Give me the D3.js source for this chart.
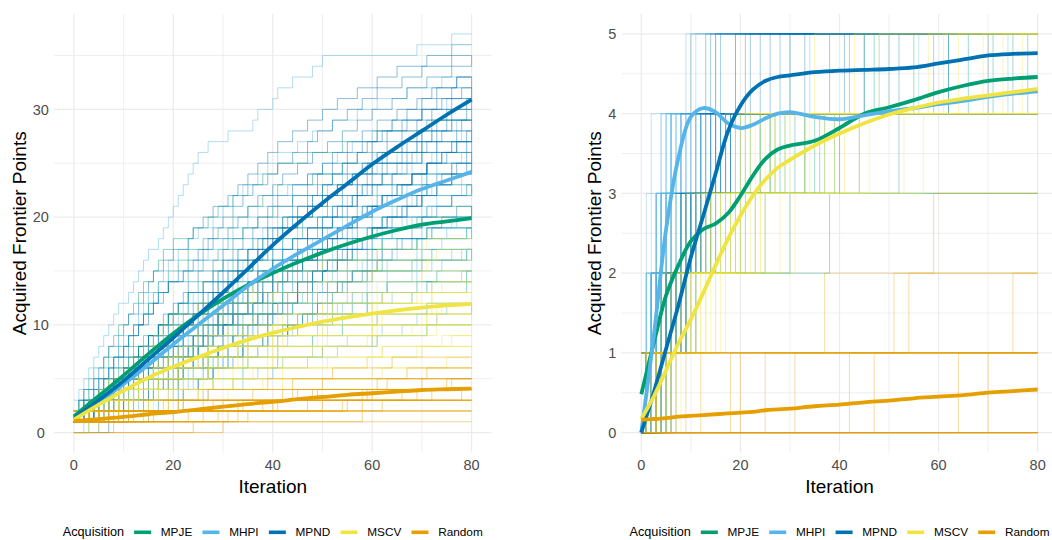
<!DOCTYPE html>
<html>
<head>
<meta charset="utf-8">
<script src="https://cdn.jsdelivr.net/npm/d3@7"></script>
<style>
  html, body { margin: 0; padding: 0; background: #ffffff; }
  svg { display: block; font-family: "Liberation Sans", Arial, Helvetica, sans-serif; }
</style>
</head>
<body>
<svg id="chart" width="1052" height="540"></svg>
<script>
// ---------------------------------------------------------------
// Acquisition strategies and their colours
// ---------------------------------------------------------------
const methods = ["MPJE", "MHPI", "MPND", "MSCV", "Random"];
const methodColors = ["#009E73", "#56B4E9", "#0072B2", "#F0E442", "#E69F00"];

const xTicks = [0, 20, 40, 60, 80];
const xMinorTicks = [10, 30, 50, 70];
const leftYTicks = [0, 10, 20, 30];
const leftYMinorTicks = [5, 15, 25, 35];
const rightYTicks = [0, 1, 2, 3, 4, 5];
const rightYMinorTicks = [0.5, 1.5, 2.5, 3.5, 4.5];
const maxIteration = 80;

// ---------------------------------------------------------------
// Left problem, individual runs. Each string is one run: every
// character is the gap (base 36) in iterations since the previous
// acquired frontier point; a leading "0" is a point held at start.
// Spaces only group the gaps roughly by 20 iterations.
// ---------------------------------------------------------------
const runsLeftMPJE = [
  "00 1111211121112112 4323333 677 a", "0 212111211211122 2333333 767 9b",
  "00 121212212122 4332333 4655 aa", "0 412121222222 2323333 5465 9b",
  "0 32122212222 2333333 5555 aa", "00 223222322 5332333 4655 9b",
  "0 1221222232 433344 5465 aa", "0 432222232 343334 5555 9b",
  "0 322232223 333343 677 aa", "00 2323333 433344 4655 9b",
  "0 23232323 543334 767 aa", "0 52322323 43454 5465 9b",
  "0 3333333 333343 586 aa", "00 233344 54354 5555 9b",
  "0 5332333 44444 677 aa", "0 343334 53454 4655 9b",
  "0 533343 34354 767 aa", "00 33454 5465 5555 9b",
  "0 64354 54444 677 aa", "0 54444 6655 586 9b",
  "343334 4555 767 aa", "0 3655 5465 677 9b",
  "0 6465 686 767 aa", "0 877 667 9b aa"
];
const runsLeftMHPI = [
  "0001111111 1121111211 1111112451 31342j7", "0 2111211121112112 223222322 43454 677",
  "0 1112212121212 33232323 343334 4655", "0 41222221222 22322323 433343 5465",
  "0 3122322222 22333322 333344 44354", "0 222232223 43232323 343334 43454",
  "0 13232323 42322323 433343 44444", "0 42333322 3323333 333344 44354",
  "0 4323333 1333333 343334 43454", "0 1333333 4332333 44354 44444",
  "00 333344 543334 433343 43454", "0 633343 3323333 43454 44354",
  "0 443334 233344 44444 43454", "2332333 533343 44354 44444",
  "0 63454 343334 44354 4655", "0 44354 433344 43454 5465",
  "0 54444 33454 44354 5555", "0 3655 433343 5465 4655",
  "0 7465 54354 44444 677", "0 6555 63454 4655 5465",
  "0 677 34354 5555 4655", "0 667 5465 4655 586",
  "0 ab 6555 677 767", "877 486 767 677"
];
const runsLeftMPND = [
  "00 112111211211122 3122322222 333344 4655", "0 22112121121212 2221222232 3323333 5465",
  "0 1121212121212 322232223 2333333 43454", "0 421212212122 123222322 3332333 44354",
  "0 32122212222 232222232 3323333 333344", "0 2222222222 422232223 23232323 44444",
  "0 123222322 332222232 32322323 343334", "0 432222232 222232223 3323333 433343",
  "0 33232323 123222322 22333322 333344", "0 22322323 322232223 2333333 343334",
  "0 3323333 432222232 23232323 433343", "0 4333333 22333322 32322323 333344",
  "00 433344 13232323 22333322 343334", "0 243334 42322323 23232323 433343",
  "0 633343 22333322 3323333 3332333", "0 333344 3333333 32322323 343334",
  "0 53454 13232323 3332333 3323333", "0 34354 3323333 22333322 333344",
  "543334 4332333 2333333 3323333", "0 5655 5323333 23232323 433343",
  "0 5465 1333333 3332333 3323333", "0 4555 343334 3323333 2333333",
  "0 777 433344 3332333 3323333", "7465 33454 2333333 343334"
];
const runsLeftMSCV = [
  "0 2122322222 5655 9b a", "0 322232223 5465 aa c",
  "0 13232323 6555 9b b", "0 5323333 3655 aa 9",
  "00 433344 677 9b d", "0 343334 7465 aa a",
  "0 333343 867 9b c", "00 63454 586 aa b",
  "0 54354 4555 9b 9", "0 34444 777 aa e",
  "333344 967 9b a", "0 63454 586 aa c",
  "0 54354 577 k b", "0 3655 867 9b d",
  "0 7465 586 aa a", "00 677 777 k c",
  "0 6555 8b aa b", "0 577 767 9b 9",
  "0 967 686 k e", "0 686 ca 9b c",
  "5465 8b k a", "0 8b 677 k b",
  "0 ba ab k d", "00 g ac m"
];
const runsLeftRandom = [
  "059dcdc", "09cfel", "00iqj", "0ciir", "0nij", "07rz",
  "0gys", "0tt", "0x", "u", "03jnp", "00qw",
  "0btq", "0ky", "0ex", "008hjn", "0fny", "0vv",
  "06dnj", "0z", "0anq", "0qt", "oy", "04olr"
];

// ---------------------------------------------------------------
// Right problem, individual runs: iterations at which each frontier
// point was acquired.
// ---------------------------------------------------------------
const runsRightMPJE = [
  [0,2,5,12,30], [1,3,8,20,42], [0,4,10,22,55], [1,2,15,24,66],
  [2,6,18,26,47], [1,5,12,33,78], [0,3,9,21], [2,7,16,28],
  [1,4,19,36], [3,8,23,44], [1,6,25,52], [2,11,38],
  [0,1,7,27,59], [1,3,14,31,71], [0,5,13,40], [2,9,21,35],
  [0,3,6,17,45], [1,4,10,29,62], [0,2,8,24], [2,5,14,33,75],
  [1,7,20,39], [0,4,11,26,50], [3,9,30], [1,5,17,37]
];
const runsRightMHPI = [
  [1,1,1,2,9], [1,2,3,4,11], [1,2,4,6,48], [2,3,4,5,74],
  [1,2,3,5,30], [1,3,4,6], [2,3,5,7], [1,2,4,8],
  [2,4,5,9], [1,3,6,8], [2,3,5,10], [1,2,4],
  [1,2,3,6], [2,3,4,7], [1,3,5,9], [2,4,6,12],
  [1,2,3,4,15], [1,1,2,5], [2,3,4,6,56], [1,2,3,7],
  [1,2,5,8,34], [2,3,5,9], [1,1,3,6,19], [1,2,4,6]
];
const runsRightMPND = [
  [2,4,6,8,10], [3,5,7,10,14], [4,6,8,11,13], [1,5,8,12,16],
  [3,6,9,12,28], [4,7,9,13,45], [5,8,11,14,62], [2,7,11,15,70],
  [6,9,12,17,38], [4,8,10,16], [5,9,13,18], [3,6,10,19],
  [5,7,12,15,24], [6,10,14,17,33], [4,9,11,16,21], [7,11,15,18],
  [3,5,8,11,15], [2,6,9,13,19], [4,7,10,14,52], [5,8,12,16],
  [3,7,11,15,26], [6,9,13,18,41], [4,8,12,17], [2,5,9,14,22]
];
const runsRightMSCV = [
  [0,4,9,17,35], [2,7,13,21,48], [3,8,15,24,58], [5,10,16,27,69],
  [1,6,14,30,77], [4,12,19,26], [6,11,18,33], [3,9,22,41],
  [7,13,20,29], [2,15,23,46], [8,17,28,53], [5,14,31],
  [1,5,11,19,64], [4,10,17,25,73], [3,12,20,37], [6,16,24,57],
  [2,6,12,20,43], [4,9,16,23], [1,7,13,22,61], [5,11,18,34],
  [3,8,14,21], [6,13,25,39], [2,10,19,27,80], [7,15,24,44]
];
const runsRightRandom = [
  [0], [0,37], [0], [3], [12], [20,51,59], [25], [31,54],
  [47], [9], [64], [18,75], [42], [70], [], [],
  [], [], [], [], [], [], [], [],
  [], [], [], [], [], [], [], []
];

// ---------------------------------------------------------------
// Smoothed mean trends
// ---------------------------------------------------------------
const smoothIterLeft = [0,5,10,15,20,25,30,35,40,45,50,55,60,65,70,75,80];
const smoothLeftMPJE   = [1.5,3.4,5.3,7.3,9.2,10.9,12.4,13.7,14.8,15.8,16.7,17.5,18.2,18.8,19.3,19.6,19.9];
const smoothLeftMHPI   = [1.2,2.8,4.5,6.3,8.2,10.0,11.8,13.6,15.2,16.6,17.9,19.2,20.5,21.6,22.6,23.4,24.2];
const smoothLeftMPND   = [1.3,3.0,4.8,6.8,8.8,10.9,13.0,15.2,17.4,19.4,21.3,23.1,24.9,26.5,28.0,29.5,30.9];
const smoothLeftMSCV   = [1.2,2.6,3.9,5.1,6.1,7.0,7.85,8.6,9.25,9.8,10.3,10.7,11.05,11.35,11.6,11.8,11.95];
const smoothLeftRandom = [1.05,1.25,1.45,1.7,1.9,2.15,2.4,2.65,2.85,3.1,3.3,3.5,3.65,3.8,3.95,4.02,4.08];

const smoothIterRight = [0,2.5,5,7.5,10,12.5,15,17.5,20,22.5,25,27.5,30,35,40,45,50,55,60,65,70,75,80];
const smoothRightMPJE   = [0.48,1.12,1.72,2.1,2.4,2.55,2.62,2.75,2.97,3.22,3.43,3.55,3.6,3.66,3.82,4.0,4.08,4.17,4.27,4.35,4.41,4.44,4.46];
const smoothRightMHPI   = [0.0,1.2,2.55,3.45,3.96,4.07,4.02,3.88,3.82,3.86,3.94,4.0,4.02,3.96,3.93,3.98,4.03,4.07,4.12,4.16,4.21,4.25,4.28];
const smoothRightMPND   = [0.0,0.5,1.05,1.6,2.2,2.72,3.25,3.78,4.1,4.3,4.41,4.46,4.48,4.52,4.54,4.55,4.56,4.58,4.63,4.68,4.73,4.75,4.76];
const smoothRightMSCV   = [0.17,0.45,0.78,1.12,1.42,1.75,2.1,2.43,2.72,2.97,3.17,3.32,3.42,3.6,3.75,3.88,3.99,4.07,4.14,4.19,4.23,4.27,4.31];
const smoothRightRandom = [0.16,0.17,0.18,0.2,0.21,0.22,0.23,0.24,0.25,0.26,0.28,0.29,0.3,0.33,0.35,0.38,0.4,0.43,0.45,0.47,0.5,0.52,0.54];

// ---------------------------------------------------------------
// Helpers
// ---------------------------------------------------------------
// gap string -> list of acquisition iterations
function decodeGaps(str) {
  let it = 0;
  return Array.from(str.replace(/\s+/g, "")).map(ch => (it += parseInt(ch, 36)));
}

// list of acquisition iterations -> step-line vertices
function runToPoints(steps) {
  const init = steps.filter(s => s <= 0).length;
  const pts = [[0, init]];
  let count = init;
  steps.filter(s => s > 0 && s <= maxIteration).forEach(s => {
    count += 1;
    const last = pts[pts.length - 1];
    if (last[0] === s) last[1] = count; else pts.push([s, count]);
  });
  if (pts[pts.length - 1][0] < maxIteration) pts.push([maxIteration, count]);
  return pts;
}

const svg = d3.select("#chart");

function drawPanel(cfg) {
  const x = d3.scaleLinear().domain([-4, 84]).range([cfg.left, cfg.right]);
  const y = d3.scaleLinear().domain(cfg.yDomain).range([cfg.bottom, cfg.top]);
  const g = svg.append("g");

  // grid
  const grid = g.append("g").attr("stroke", "#ebebeb");
  xMinorTicks.forEach(v => grid.append("line")
    .attr("x1", x(v)).attr("x2", x(v)).attr("y1", cfg.top).attr("y2", cfg.bottom)
    .attr("stroke-width", 0.8));
  cfg.yMinor.forEach(v => grid.append("line")
    .attr("x1", cfg.left).attr("x2", cfg.right).attr("y1", y(v)).attr("y2", y(v))
    .attr("stroke-width", 0.8));
  xTicks.forEach(v => grid.append("line")
    .attr("x1", x(v)).attr("x2", x(v)).attr("y1", cfg.top).attr("y2", cfg.bottom)
    .attr("stroke-width", 1.2));
  cfg.yTicks.forEach(v => grid.append("line")
    .attr("x1", cfg.left).attr("x2", cfg.right).attr("y1", y(v)).attr("y2", y(v))
    .attr("stroke-width", 1.2));

  // individual runs
  const stepLine = d3.line().x(d => x(d[0])).y(d => y(d[1])).curve(d3.curveStepAfter);
  const runsLayer = g.append("g").attr("fill", "none");
  cfg.runs.forEach((runs, i) => {
    runs.forEach(run => {
      runsLayer.append("path")
        .attr("d", stepLine(runToPoints(run)))
        .attr("stroke", methodColors[i])
        .attr("stroke-width", 0.9)
        .attr("stroke-opacity", cfg.runOpacity);
    });
  });

  // smoothed trends
  const smoothLine = d3.line().x(d => x(d[0])).y(d => y(d[1])).curve(d3.curveCatmullRom.alpha(0.5));
  const smoothLayer = g.append("g").attr("fill", "none");
  cfg.smooth.forEach((vals, i) => {
    smoothLayer.append("path")
      .attr("d", smoothLine(cfg.smoothIter.map((it, k) => [it, vals[k]])))
      .attr("stroke", methodColors[i])
      .attr("stroke-width", 3.8);
  });

  // y tick labels, centred in the label column
  const yLab = g.append("g").attr("fill", "#4d4d4d").style("font-size", "14.5px");
  const labels = cfg.yTicks.map(v => yLab.append("text").text(d3.format("d")(v))
    .attr("y", y(v)).attr("dy", "0.36em").attr("text-anchor", "middle"));
  const maxW = d3.max(labels, t => t.node().getComputedTextLength());
  const labCenter = cfg.left - 5.2 - maxW / 2;
  labels.forEach(t => t.attr("x", labCenter));

  // x tick labels
  const xLab = g.append("g").attr("fill", "#4d4d4d").style("font-size", "14.5px")
    .attr("text-anchor", "middle");
  xTicks.forEach(v => xLab.append("text").text(v).attr("x", x(v)).attr("y", 470));

  // axis titles
  const cx = (cfg.left + cfg.right) / 2;
  g.append("text").text("Iteration")
    .attr("x", cx).attr("y", 492.7).attr("text-anchor", "middle")
    .style("font-size", "19px").attr("fill", "#000");
  const yTitleX = cfg.left - 5.2 - maxW - 7;
  g.append("text").text("Acquired Frontier Points")
    .attr("transform", `translate(${yTitleX},${(cfg.top + cfg.bottom) / 2}) rotate(-90)`)
    .attr("text-anchor", "middle")
    .style("font-size", "19px").attr("fill", "#000");

  // legend
  const leg = g.append("g");
  const title = leg.append("text").text("Acquisition")
    .attr("y", 536.2).style("font-size", "12.7px").attr("fill", "#000");
  const items = methods.map((m, i) => {
    const key = leg.append("line").attr("stroke", methodColors[i])
      .attr("stroke-width", 3.6).attr("y1", 532.3).attr("y2", 532.3);
    const lab = leg.append("text").text(m).attr("y", 536.2)
      .style("font-size", "11.8px").attr("fill", "#000");
    return { key, lab, w: lab.node().getComputedTextLength() };
  });
  const titleW = title.node().getComputedTextLength();
  const keyW = 17, gapTitle = 10, gapKey = 9.7, gapItem = 10.2;
  const total = titleW + gapTitle + items.length * (keyW + gapKey)
    + d3.sum(items, d => d.w) + (items.length - 1) * gapItem;
  let px = cx - total / 2;
  title.attr("x", px);
  px += titleW + gapTitle;
  items.forEach(it => {
    it.key.attr("x1", px).attr("x2", px + keyW);
    px += keyW + gapKey;
    it.lab.attr("x", px);
    px += it.w + gapItem;
  });
}

drawPanel({
  left: 54, right: 491.5, top: 14, bottom: 452.5,
  yDomain: [-1.85, 38.85],
  yTicks: leftYTicks, yMinor: leftYMinorTicks,
  runOpacity: 0.5,
  runs: [runsLeftMPJE, runsLeftMHPI, runsLeftMPND, runsLeftMSCV, runsLeftRandom]
    .map(list => list.map(decodeGaps)),
  smoothIter: smoothIterLeft,
  smooth: [smoothLeftMPJE, smoothLeftMHPI, smoothLeftMPND, smoothLeftMSCV, smoothLeftRandom]
});

drawPanel({
  left: 621.5, right: 1057.5, top: 14, bottom: 452.5,
  yDomain: [-0.25, 5.25],
  yTicks: rightYTicks, yMinor: rightYMinorTicks,
  runOpacity: 0.4,
  runs: [runsRightMPJE, runsRightMHPI, runsRightMPND, runsRightMSCV, runsRightRandom],
  smoothIter: smoothIterRight,
  smooth: [smoothRightMPJE, smoothRightMHPI, smoothRightMPND, smoothRightMSCV, smoothRightRandom]
});
</script>
</body>
</html>
